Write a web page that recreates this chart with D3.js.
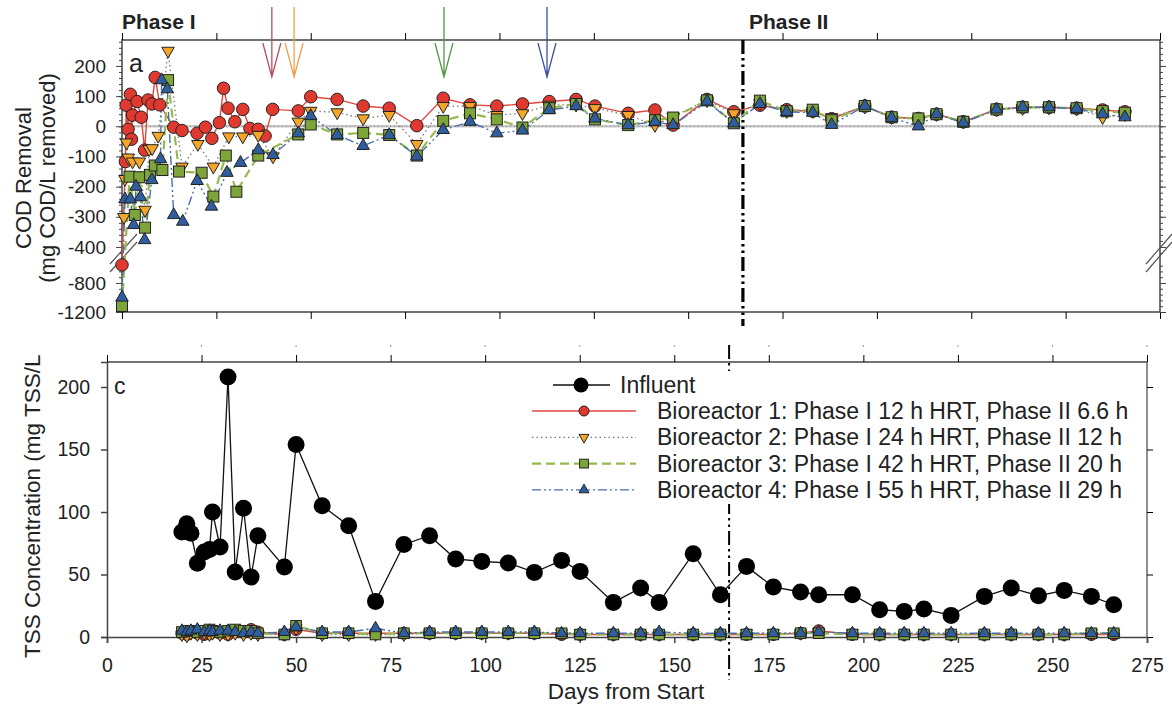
<!DOCTYPE html>
<html>
<head>
<meta charset="utf-8">
<script src="https://cdn.jsdelivr.net/npm/d3@7"></script>
<style>
  body { margin: 0; background: #fff; }
  svg text { font-family: "Liberation Sans", Arial, sans-serif; fill: #222; }
</style>
</head>
<body>
<script>
// ---- COD removal (panel a), days from start and mg COD/L removed ----
const b1Days = [0,0.9,1.1,1.6,2.2,2.5,2.8,4,5.1,6,6.9,7.9,8.8,10,13.7,15.9,19.9,22.1,23.8,25.8,26.9,28.1,29.9,32,33.9,36.1,37.9,39.9,46.7,50,57,63.9,70.8,78.1,85.1,92.2,99.3,106.1,113.2,120.3,125.3,134.1,141.2,146,155,162.1,169,176.1,183,188,196.8,203.9,211,215.8,222.9,231.7,238.6,245.6,252.9,259.8,265.7];
const b1Cod = [-550,-117,70,-10,106,-43,37,82,30,-79,87,74,162,71,-3,-14,-23,-3,-40,12,126,60,15,56,-7,-10,-32,56,51,98,89,67,60,2,93,71,67,74,82,89,67,43,54,4,89,48,70,55,50,25,67,30,26,40,15,56,63,63,60,54,48];

const b2Days = [0.5,0.8,1.2,1.7,2.8,4.6,6.1,7.2,8,9.6,12.2,15.9,20.1,24.2,28.3,32,36.1,40,46.7,50,57,63.9,70.8,78.1,85.1,92.2,99.3,106.1,113.2,120.3,125.3,134.1,141.2,146,155,162.1,169,176.1,183,188,196.8,203.9,211,215.8,222.9,231.7,238.6,245.6,252.9,259.8,265.7];
const b2Cod = [-301,-175,-54,-104,-117,-117,-277,-76,-73,-32,250,-134,-59,-134,-34,-34,-29,-100,15,51,46,26,37,-59,67,67,37,43,71,71,60,37,4,32,86,43,76,50,50,30,65,30,22,40,15,55,60,62,58,30,40];

const b3Days = [0,2,3.4,4.6,6.1,7.4,8.7,10.7,12.2,15.1,21.1,24.2,27.5,30.3,36.1,46.7,50,57,63.9,70.8,78.1,85.1,92.2,99.3,106.1,113.2,120.3,125.3,134.1,141.2,146,155,162.1,169,176.1,183,188,196.8,203.9,211,215.8,222.9,231.7,238.6,245.6,252.9,259.8,265.7];
const b3Cod = [-1117,-167,-294,-169,-336,-161,-130,-145,153,-150,-154,-233,-97,-217,-97,-27,6,-27,-22,-29,-97,18,43,23,-4,60,74,23,4,20,29,86,10,85,50,55,20,67,30,26,40,15,56,63,63,60,50,45];

const b4Days = [0,0.8,2.2,3.1,3.7,4.9,6,7.9,10.2,10.5,12,13.7,16.1,19.9,23.7,27.8,31.4,36.1,40,46.7,50,57,63.9,70.8,78.1,85.1,92.2,99.3,106.1,113.2,120.3,125.3,134.1,141.2,146,155,162.1,169,176.1,183,188,196.8,203.9,211,215.8,222.9,231.7,238.6,245.6,252.9,259.8,265.7];
const b4Cod = [-1000,-242,-242,-327,-200,-235,-377,-178,-109,153,123,-294,-316,-181,-266,-154,-121,-79,-95,-23,34,-29,-65,-29,-100,-12,15,-23,-14,54,67,26,4,15,4,82,10,74,48,45,5,67,28,0,40,12,56,63,63,58,40,30];

// ---- TSS (panel c), days from start and mg TSS/L ----
const tssDays = [19.8,21.1,22.2,23.9,25.7,27.1,27.9,29.9,32,33.9,36.1,38.1,39.9,46.9,50,56.9,63.9,71,78.5,85.3,92.2,99.1,106.1,113,120.2,125.1,133.9,141.1,146,155,162.2,169.1,176.2,183.4,188.2,197.1,204.3,210.8,216,223.2,232,239.1,246.3,253.1,260.3,266.2];
const influentTss = [84,90.6,83,59,68,70,100,72,208,52,103,48,81,56,154,105,89,28.5,74,81,62.4,60.5,59.2,51.7,61.3,52.5,27.7,39.2,27.7,66.6,33.8,56.5,40,36,33.8,33.8,21.8,20.5,22.4,17.3,32.5,39.2,33,37.3,32.5,25.8];
const b1Tss = [3,2,4,3,2,3,4,3,2,5,4,6,4,2,6,3,3,3,3,3,3,3,3,3,2,2,2,2,2,2,2,2,2,3,5,2,2,2,2,2,2,2,2,2,2,2];
const b2Tss = [2,1,3,2,3,2,3,2,2,3,2,3,2,2,7,2,2,2,2,3,3,3,3,3,3,3,2,2,2,2,2,3,3,3,4,3,2,2,2,2,2,2,2,2,3,3];
const b3Tss = [4,5,5,4,5,6,5,4,5,6,5,5,3,2,9,3,3,2,3,3,3,3,3,3,3,2,2,2,2,2,2,2,2,3,3,2,2,2,2,2,2,2,2,2,3,3];
const b4Tss = [5,4,5,6,4,5,4,5,5,4,3,4,3,4,8,4,4,7,3,4,4,4,4,4,3,3,3,3,4,3,3,3,3,3,4,3,3,3,3,3,3,3,3,3,3,3];

// other labels
const phaseBreak = 164.5;
const arrowDays = [39.7, 45.6, 85.3, 112.6];
const arrowColors = ["#b5505e", "#f0a04c", "#4f9a42", "#3e4fa3"];
const seriesNames = ["Bioreactor 1: Phase I 12 h HRT, Phase II 6.6 h",
                     "Bioreactor 2: Phase I 24 h HRT, Phase II 12 h",
                     "Bioreactor 3: Phase I 42 h HRT, Phase II 20 h",
                     "Bioreactor 4: Phase I 55 h HRT, Phase II 29 h"];
const codTicksUpper = [200, 100, 0, -100, -200, -300, -400];
const codTicksLower = [-800, -1200];
const tssTicks = [0, 50, 100, 150, 200];
const dayTicks = d3.range(0, 276, 25);

const styles = [
  {fill: "#e03a30", line: "#e0483f", dash: null, w: 1.4, shape: "circle"},
  {fill: "#f3a62a", line: "#777", dash: "1.5,3", w: 1.3, shape: "down"},
  {fill: "#7ea53a", line: "#96b94e", dash: "9,5", w: 2.2, shape: "square"},
  {fill: "#2f5d9e", line: "#4a6fae", dash: "9,3,2,3,2,3", w: 1.4, shape: "up"}
];

const svg = d3.select("body").append("svg")
  .attr("width", 1172).attr("height", 706);

const xTop = d3.scaleLinear().domain([0, 275]).range([122, 1160]);
const xBot = d3.scaleLinear().domain([0, 275]).range([107, 1147]);
const yUp = d3.scaleLinear().domain([-420, 286]).range([253, 40]);
const yLow = d3.scaleLinear().domain([-1200, -510]).range([312, 262]);
const yCod = v => v > -470 ? yUp(v) : yLow(v);
const yTss = d3.scaleLinear().domain([0, 220]).range([637, 362]);
const plain = d => String(d);

// size = approx. marker width in px
function marker(sel, shape, size) {
  if (shape === "circle") {
    sel.append("circle").attr("r", size / 2);
  } else if (shape === "square") {
    const s = size * 0.88;
    sel.append("rect").attr("x", -s / 2).attr("y", -s / 2).attr("width", s).attr("height", s);
  } else {
    const area = size * size * Math.sqrt(3) / 4;
    sel.append("path").attr("d", d3.symbol().type(d3.symbolTriangle).size(area)())
      .attr("transform", shape === "down" ? "rotate(180)" : null);
  }
}

// ================= top panel =================
const topPanel = svg.append("g");

// zero line
topPanel.append("line").attr("x1", 122).attr("x2", 1160)
  .attr("y1", yUp(0)).attr("y2", yUp(0))
  .attr("stroke", "#c8c8c8").attr("stroke-width", 2.5);
topPanel.append("line").attr("x1", 122).attr("x2", 1160)
  .attr("y1", yUp(0)).attr("y2", yUp(0))
  .attr("stroke", "#888").attr("stroke-width", 1).attr("stroke-dasharray", "1,3");

// frame
topPanel.append("rect").attr("x", 122).attr("y", 40).attr("width", 1038).attr("height", 272)
  .attr("fill", "none").attr("stroke", "#444").attr("stroke-width", 1.5);

topPanel.append("g").attr("transform", "translate(0,40)")
  .call(d3.axisTop(xTop).tickValues(dayTicks).tickSize(7).tickFormat(""))
  .call(g => g.select(".domain").remove());
topPanel.append("g").attr("transform", "translate(0,312)")
  .call(d3.axisBottom(xTop).tickValues(dayTicks).tickSize(7).tickFormat(""))
  .call(g => g.select(".domain").remove());

function codAxis(x, gen) {
  const g = topPanel.append("g").attr("transform", `translate(${x},0)`);
  g.append("g").call(gen(yUp).tickValues(codTicksUpper).tickSize(6).tickPadding(10).tickFormat(plain))
    .call(a => a.select(".domain").remove());
  g.append("g").call(gen(yUp).tickValues(d3.range(-420, 287, 20)).tickSize(3).tickFormat(""))
    .call(a => a.select(".domain").remove());
  g.append("g").call(gen(yLow).tickValues(codTicksLower).tickSize(6).tickPadding(10).tickFormat(plain))
    .call(a => a.select(".domain").remove());
  g.append("g").call(gen(yLow).tickValues(d3.range(-1200, -520, 80)).tickSize(3).tickFormat(""))
    .call(a => a.select(".domain").remove());
  g.selectAll("line").attr("stroke", "#444");
  g.selectAll("text").attr("font-size", 19).attr("font-family", "Liberation Sans").attr("fill", "#222");
  return g;
}
codAxis(122, d3.axisLeft);
codAxis(1160, d3.axisRight).selectAll("text").remove();

// axis break marks
[[110, 137], [1146, 1172]].forEach(([a, b]) => {
  [0, 8].forEach(o => {
    topPanel.append("line").attr("x1", a).attr("y1", 264 + o).attr("x2", b).attr("y2", 234 + o)
      .attr("stroke", "#555").attr("stroke-width", 1.2);
  });
});

// phase divider
topPanel.append("line").attr("x1", xTop(phaseBreak)).attr("x2", xTop(phaseBreak))
  .attr("y1", 40).attr("y2", 326)
  .attr("stroke", "#000").attr("stroke-width", 3.2).attr("stroke-dasharray", "14,4,2.5,4,2.5,4");

// arrows
arrowDays.forEach((d, i) => {
  const x = xTop(d);
  topPanel.append("path").attr("d", `M${x},7L${x},77M${x - 9},43L${x},77L${x + 9},43`)
    .attr("fill", "none").attr("stroke", arrowColors[i]).attr("stroke-width", 1.3);
});

topPanel.append("text").attr("x", 122).attr("y", 29).attr("font-size", 21).attr("font-weight", "bold").text("Phase I");
topPanel.append("text").attr("x", 749).attr("y", 29).attr("font-size", 21).attr("font-weight", "bold").text("Phase II");
topPanel.append("text").attr("x", 129).attr("y", 72).attr("font-size", 25).text("a");

topPanel.append("text").attr("transform", "translate(31,178) rotate(-90)")
  .attr("text-anchor", "middle").attr("font-size", 22).text("COD Removal");
topPanel.append("text").attr("transform", "translate(55,178) rotate(-90)")
  .attr("text-anchor", "middle").attr("font-size", 22).text("(mg COD/L removed)");

const codSeries = [[b1Days, b1Cod], [b2Days, b2Cod], [b3Days, b3Cod], [b4Days, b4Cod]];
const codLine = d3.line().x(d => xTop(d[0])).y(d => yCod(d[1]));
codSeries.forEach(([days, vals], i) => {
  const pts = days.map((d, j) => [d, vals[j]]);
  topPanel.append("path").datum(pts).attr("d", codLine)
    .attr("fill", "none").attr("stroke", styles[i].line)
    .attr("stroke-width", styles[i].w).attr("stroke-dasharray", styles[i].dash);
});
codSeries.forEach(([days, vals], i) => {
  const pts = days.map((d, j) => [d, vals[j]]);
  topPanel.append("g").selectAll("g").data(pts).join("g")
    .attr("transform", d => `translate(${xTop(d[0])},${yCod(d[1])})`)
    .each(function () { marker(d3.select(this), styles[i].shape, 12.5); })
    .selectAll("*").attr("fill", styles[i].fill).attr("stroke", "#222").attr("stroke-width", 1);
});

// ================= bottom panel =================
const bot = svg.append("g");

// faint remnant ticks above the panel
bot.append("g").selectAll("line").data(dayTicks.slice(1)).join("line")
  .attr("x1", d => xBot(d)).attr("x2", d => xBot(d)).attr("y1", 345).attr("y2", 347)
  .attr("stroke", "#999");

bot.append("line").attr("x1", 107).attr("x2", 1147).attr("y1", 362).attr("y2", 362)
  .attr("stroke", "#444").attr("stroke-width", 1.5);
bot.append("line").attr("x1", 1147).attr("x2", 1147).attr("y1", 362).attr("y2", 637)
  .attr("stroke", "#444").attr("stroke-width", 1.2);
bot.append("g").attr("transform", "translate(0,362)")
  .call(d3.axisTop(xBot).tickValues(dayTicks).tickSize(7).tickFormat(""))
  .call(g => g.select(".domain").remove());
bot.append("g").attr("transform", "translate(1147,0)")
  .call(d3.axisRight(yTss).tickValues(tssTicks).tickSize(6).tickFormat(""))
  .call(g => g.select(".domain").remove());

const xAx = bot.append("g").attr("transform", "translate(0,637)")
  .call(d3.axisBottom(xBot).tickValues(dayTicks).tickSize(6).tickPadding(15).tickFormat(plain));
const yAx = bot.append("g").attr("transform", "translate(107,0)")
  .call(d3.axisLeft(yTss).tickValues(tssTicks).tickSize(6).tickPadding(11).tickFormat(plain));
[xAx, yAx].forEach(g => {
  g.selectAll("line, path").attr("stroke", "#444").attr("stroke-width", 1.5);
  g.selectAll("text").attr("font-size", 19.5).attr("font-family", "Liberation Sans").attr("fill", "#222");
});

bot.append("text").attr("x", 114).attr("y", 394).attr("font-size", 23).text("c");
bot.append("text").attr("x", 626).attr("y", 699).attr("text-anchor", "middle")
  .attr("font-size", 22.5).text("Days from Start");
bot.append("text").attr("transform", "translate(40,658) rotate(-90)")
  .attr("font-size", 22.5).text("TSS Concentration (mg TSS/L");

// phase divider
bot.append("line").attr("x1", xBot(phaseBreak)).attr("x2", xBot(phaseBreak))
  .attr("y1", 345).attr("y2", 680)
  .attr("stroke", "#000").attr("stroke-width", 2).attr("stroke-dasharray", "14,4,2.5,4,2.5,4");

const tssLine = d3.line().x(d => xBot(d[0])).y(d => yTss(d[1]));
const tssSeries = [b1Tss, b2Tss, b3Tss, b4Tss];
tssSeries.forEach((vals, i) => {
  const pts = tssDays.map((d, j) => [d, vals[j]]);
  bot.append("path").datum(pts).attr("d", tssLine)
    .attr("fill", "none").attr("stroke", styles[i].line)
    .attr("stroke-width", styles[i].w).attr("stroke-dasharray", styles[i].dash);
});
tssSeries.forEach((vals, i) => {
  const pts = tssDays.map((d, j) => [d, vals[j]]);
  bot.append("g").selectAll("g").data(pts).join("g")
    .attr("transform", d => `translate(${xBot(d[0])},${yTss(d[1])})`)
    .each(function () { marker(d3.select(this), styles[i].shape, 12); })
    .selectAll("*").attr("fill", styles[i].fill).attr("stroke", "#222").attr("stroke-width", 1);
});

const inf = tssDays.map((d, j) => [d, influentTss[j]]);
bot.append("path").datum(inf).attr("d", tssLine)
  .attr("fill", "none").attr("stroke", "#111").attr("stroke-width", 1.3);
bot.append("g").selectAll("circle").data(inf).join("circle")
  .attr("cx", d => xBot(d[0])).attr("cy", d => yTss(d[1])).attr("r", 8.5)
  .attr("fill", "#000");

// legend
const leg = bot.append("g");
leg.append("rect").attr("x", 525).attr("y", 371).attr("width", 612).attr("height", 133).attr("fill", "#fff");
leg.append("line").attr("x1", 553).attr("x2", 610).attr("y1", 385).attr("y2", 385)
  .attr("stroke", "#111").attr("stroke-width", 1.5);
leg.append("circle").attr("cx", 581).attr("cy", 385).attr("r", 7.5).attr("fill", "#000");
leg.append("text").attr("x", 620).attr("y", 393).attr("font-size", 23).text("Influent");
seriesNames.forEach((name, i) => {
  const y = 411 + i * 26.3;
  leg.append("line").attr("x1", 532).attr("x2", 636).attr("y1", y).attr("y2", y)
    .attr("stroke", styles[i].line).attr("stroke-width", styles[i].w)
    .attr("stroke-dasharray", styles[i].dash);
  const m = leg.append("g").attr("transform", `translate(584,${y})`);
  marker(m, styles[i].shape, 10);
  m.selectAll("*").attr("fill", styles[i].fill).attr("stroke", "#222").attr("stroke-width", 1);
  leg.append("text").attr("x", 657).attr("y", y + 8).attr("font-size", 23).text(name);
});
</script>
</body>
</html>
